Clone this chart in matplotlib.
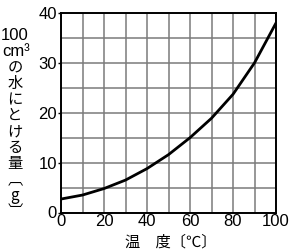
import numpy as np
import matplotlib.pyplot as plt

temp = [0, 10, 20, 30, 40, 50, 60, 70, 80, 90, 100]
amount = [2.7, 3.5, 4.8, 6.5, 8.8, 11.6, 15.0, 18.9, 23.7, 30.0, 38.0]

xticks = [0, 20, 40, 60, 80, 100]
yticks = [0, 10, 20, 30, 40]
ylabel_top = ["100", "cm³"]
ylabel_rows = ["の", "水", "に", "と", "け", "る", "量", "︹", "g", "︺"]
xlabel = "温　度〔℃〕"

plt.rcParams['font.family'] = ['Liberation Sans', 'Noto Sans CJK JP', 'DejaVu Sans']

fig = plt.figure(figsize=(3.0, 2.52), dpi=100)
ax = fig.add_axes([61/300, 1 - 212.5/252, 215/300, 199.5/252])

ax.plot(temp, amount, color='black', lw=2.0, solid_capstyle='round')

ax.set_xlim(0, 100)
ax.set_ylim(0, 40)
ax.xaxis.remove_overlapping_locs = False
ax.yaxis.remove_overlapping_locs = False
ax.set_xticks(np.arange(0, 101, 10))
ax.set_yticks(np.arange(0, 41, 5))
ax.set_xticklabels([])
ax.set_yticklabels([])
ax.grid(True, which='major', color='#7a7a7a', lw=1.1)
ax.tick_params(which='major', length=0)
ax.set_xticks(xticks, [str(v) for v in xticks], minor=True)
ax.set_yticks(yticks, [str(v) for v in yticks], minor=True)
ax.tick_params(axis='x', which='minor', length=0, labelsize=12, pad=1)
ax.tick_params(axis='y', which='minor', length=2, width=1, labelsize=12, pad=1)
for s in ax.spines.values():
    s.set_linewidth(1.4)
    s.set_color('black')

# vertical y label: "100" / "cm3" then one character per row
fig.text(15/300, 1 - 36/252, ylabel_top[0], ha='center', va='center', fontsize=12)
fig.text(16/300, 1 - 51/252, ylabel_top[1], ha='center', va='center', fontsize=12)
for i, row in enumerate(ylabel_rows):
    y = 68 + i * 15.9
    fig.text(15/300, 1 - y/252, row, ha='center', va='center', fontsize=11,
             family=['Noto Sans CJK JP', 'Liberation Sans'])

fig.text(171/300, 1 - 242/252, xlabel, ha='center', va='center', fontsize=11,
         family=['Noto Sans CJK JP', 'DejaVu Sans'])

fig.savefig('out.png', dpi=100)
